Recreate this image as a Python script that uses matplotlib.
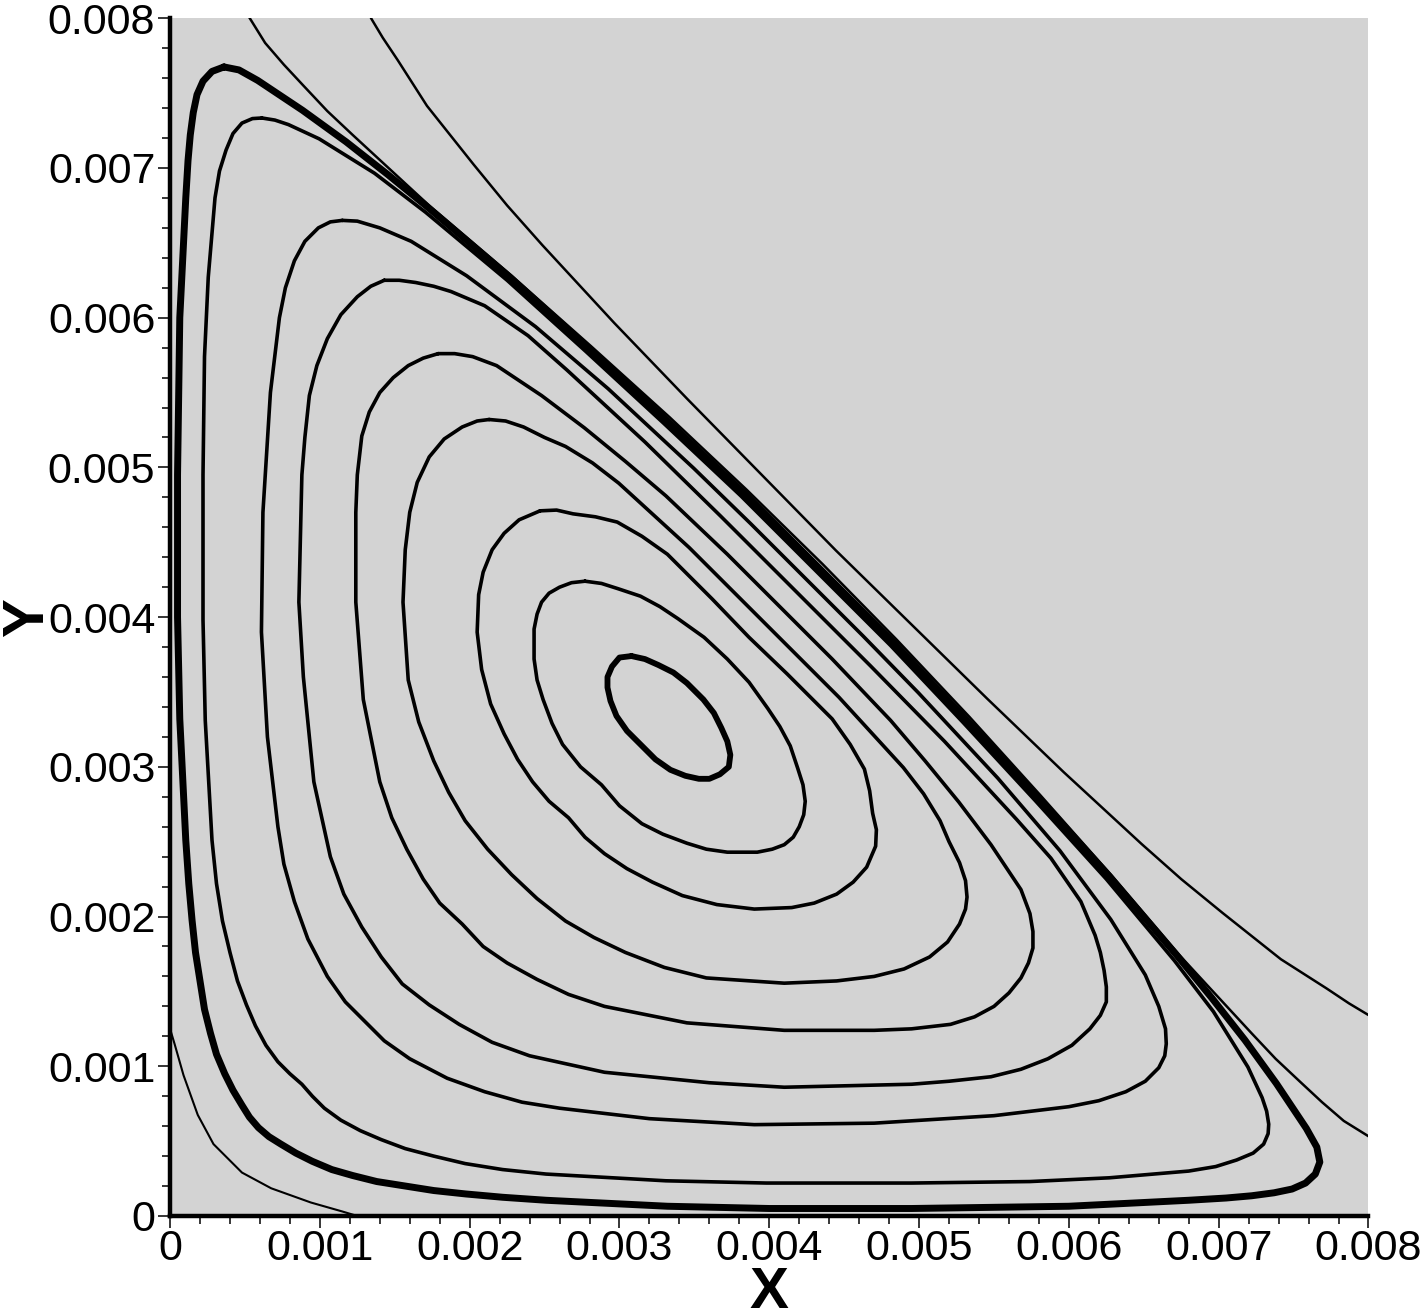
import matplotlib

matplotlib.use("Agg")
import matplotlib.pyplot as plt
from matplotlib.ticker import FixedLocator, FixedFormatter, MultipleLocator
import numpy as np

# all coordinates below are (x, y) in units of 0.001
UNIT = 1e-3

# closed streamlines, outermost (A) to innermost (I)
LOOP_A = [
    (0.36, 7.675), (0.28, 7.645), (0.22, 7.58), (0.18, 7.49), (0.155, 7.37), (0.135, 7.22),
    (0.12, 7.05), (0.105, 6.80), (0.065, 6.00), (0.05, 4.95), (0.05, 4.00), (0.065, 3.32),
    (0.105, 2.51), (0.125, 2.22), (0.147, 1.975), (0.17, 1.76), (0.20, 1.57), (0.23, 1.38),
    (0.27, 1.22), (0.31, 1.08), (0.365, 0.95), (0.42, 0.84), (0.48, 0.74), (0.53, 0.66),
    (0.59, 0.59), (0.66, 0.53), (0.74, 0.48), (0.84, 0.42), (0.95, 0.365), (1.08, 0.31),
    (1.22, 0.27), (1.38, 0.23), (1.57, 0.20), (1.76, 0.17), (1.975, 0.147), (2.22, 0.125),
    (2.51, 0.105), (3.32, 0.065), (4.00, 0.05), (4.95, 0.05), (6.00, 0.065), (6.80, 0.105),
    (7.05, 0.12), (7.22, 0.135), (7.37, 0.155), (7.49, 0.18), (7.58, 0.22), (7.645, 0.28),
    (7.675, 0.36), (7.655, 0.46), (7.585, 0.585), (7.385, 0.885), (7.175, 1.175),
    (6.955, 1.455), (6.73, 1.73), (6.27, 2.27), (5.795, 2.795), (5.315, 3.315), (4.83, 3.83),
    (4.33, 4.33), (3.83, 4.83), (3.315, 5.315), (2.795, 5.795), (2.27, 6.27), (1.73, 6.73),
    (1.455, 6.955), (1.175, 7.175), (0.885, 7.385), (0.585, 7.585), (0.46, 7.655), (0.36, 7.675),
]

LOOP_B = [
    (0.613, 7.334), (0.55, 7.33), (0.48, 7.30), (0.42, 7.23), (0.374, 7.12), (0.33, 6.98),
    (0.30, 6.80), (0.255, 6.27), (0.23, 5.74), (0.22, 4.95), (0.22, 3.98), (0.235, 3.31),
    (0.28, 2.51), (0.31, 2.22), (0.35, 1.97), (0.40, 1.76), (0.45, 1.57), (0.51, 1.41),
    (0.57, 1.27), (0.64, 1.14), (0.72, 1.03), (0.80, 0.95), (0.88, 0.88), (0.95, 0.80),
    (1.03, 0.72), (1.14, 0.64), (1.27, 0.57), (1.41, 0.51), (1.57, 0.45), (1.76, 0.40),
    (1.97, 0.35), (2.22, 0.31), (2.51, 0.28), (3.31, 0.235), (3.98, 0.22), (4.95, 0.22),
    (5.74, 0.23), (6.27, 0.255), (6.80, 0.30), (6.98, 0.33), (7.12, 0.374), (7.23, 0.42),
    (7.30, 0.48), (7.33, 0.55), (7.334, 0.613), (7.32, 0.70), (7.29, 0.79), (7.195, 0.995),
    (6.965, 1.365), (6.705, 1.705), (6.25, 2.25), (5.775, 2.775), (5.295, 3.295), (4.81, 3.81),
    (4.31, 4.31), (3.81, 4.81), (3.295, 5.295), (2.775, 5.775), (2.25, 6.25), (1.705, 6.705),
    (1.365, 6.965), (0.995, 7.195), (0.79, 7.29), (0.70, 7.32), (0.613, 7.334),
]

LOOP_C = [
    (1.15, 6.65), (1.07, 6.64), (0.99, 6.60), (0.90, 6.51), (0.83, 6.38), (0.77, 6.20),
    (0.73, 6.00), (0.70, 5.75), (0.67, 5.50), (0.62, 4.70), (0.61, 3.90), (0.65, 3.20),
    (0.72, 2.60), (0.76, 2.35), (0.83, 2.10), (0.92, 1.85), (1.05, 1.60), (1.17, 1.43),
    (1.30, 1.30), (1.43, 1.17), (1.60, 1.05), (1.85, 0.92), (2.10, 0.83), (2.35, 0.76),
    (2.60, 0.72), (3.20, 0.65), (3.90, 0.61), (4.70, 0.62), (5.50, 0.67), (5.75, 0.70),
    (6.00, 0.73), (6.20, 0.77), (6.38, 0.83), (6.51, 0.90), (6.60, 0.99), (6.64, 1.07),
    (6.65, 1.15), (6.645, 1.25), (6.60, 1.40), (6.51, 1.61), (6.28, 1.98), (5.94, 2.44),
    (5.525, 2.925), (4.995, 3.495), (4.625, 3.875), (4.25, 4.25), (3.875, 4.625),
    (3.495, 4.995), (2.925, 5.525), (2.44, 5.94), (1.98, 6.28), (1.61, 6.51), (1.40, 6.60),
    (1.25, 6.645), (1.15, 6.65),
]

LOOP_D = [
    (1.43, 6.25), (1.34, 6.21), (1.25, 6.14), (1.14, 6.02), (1.05, 5.86), (0.98, 5.68),
    (0.93, 5.48), (0.90, 5.20), (0.88, 4.95), (0.86, 4.10), (0.89, 3.60), (0.96, 2.90),
    (1.07, 2.40), (1.16, 2.15), (1.28, 1.93), (1.41, 1.73), (1.55, 1.55), (1.73, 1.41),
    (1.93, 1.28), (2.15, 1.16), (2.40, 1.07), (2.90, 0.96), (3.60, 0.89), (4.10, 0.86),
    (4.95, 0.88), (5.20, 0.90), (5.48, 0.93), (5.68, 0.98), (5.86, 1.05), (6.02, 1.14),
    (6.14, 1.25), (6.21, 1.34), (6.25, 1.43), (6.25, 1.53), (6.235, 1.64), (6.21, 1.76),
    (6.175, 1.875), (6.08, 2.10), (5.88, 2.39), (5.65, 2.65), (5.17, 3.17), (4.675, 3.675),
    (4.175, 4.175), (3.675, 4.675), (3.17, 5.17), (2.65, 5.65), (2.39, 5.88), (2.10, 6.08),
    (1.875, 6.175), (1.76, 6.21), (1.64, 6.235), (1.53, 6.25), (1.43, 6.25),
]

LOOP_E = [
    (1.79, 5.76), (1.69, 5.73), (1.59, 5.68), (1.49, 5.60), (1.40, 5.50), (1.33, 5.37),
    (1.28, 5.21), (1.25, 4.95), (1.24, 4.70), (1.24, 4.10), (1.29, 3.45), (1.40, 2.90),
    (1.48, 2.66), (1.58, 2.45), (1.69, 2.25), (1.80, 2.09), (1.95, 1.95), (2.09, 1.80),
    (2.25, 1.69), (2.45, 1.58), (2.66, 1.48), (2.90, 1.40), (3.45, 1.29), (4.10, 1.24),
    (4.70, 1.24), (4.95, 1.25), (5.21, 1.28), (5.37, 1.33), (5.50, 1.40), (5.60, 1.49),
    (5.68, 1.59), (5.73, 1.69), (5.76, 1.79), (5.76, 1.90), (5.74, 2.02), (5.68, 2.18),
    (5.48, 2.48), (5.265, 2.765), (5.04, 3.04), (4.81, 3.31), (4.42, 3.72), (4.07, 4.07),
    (3.72, 4.42), (3.31, 4.81), (3.04, 5.04), (2.765, 5.265), (2.48, 5.48), (2.18, 5.68),
    (2.02, 5.74), (1.90, 5.76), (1.79, 5.76),
]

LOOP_F = [
    (2.13, 5.32), (2.05, 5.31), (1.95, 5.27), (1.83, 5.19), (1.73, 5.07), (1.65, 4.90),
    (1.60, 4.70), (1.57, 4.45), (1.555, 4.10), (1.59, 3.58), (1.66, 3.30), (1.76, 3.04),
    (1.86, 2.83), (1.97, 2.64), (2.12, 2.45), (2.28, 2.28), (2.45, 2.12), (2.64, 1.97),
    (2.83, 1.86), (3.04, 1.76), (3.30, 1.66), (3.58, 1.59), (4.10, 1.555), (4.45, 1.57),
    (4.70, 1.60), (4.90, 1.65), (5.07, 1.73), (5.19, 1.83), (5.27, 1.95), (5.31, 2.05),
    (5.32, 2.13), (5.31, 2.24), (5.27, 2.36), (5.20, 2.50), (5.14, 2.64), (5.03, 2.82),
    (4.895, 2.995), (4.68, 3.23), (4.465, 3.465), (3.965, 3.965), (3.465, 4.465),
    (3.23, 4.68), (2.995, 4.895), (2.82, 5.03), (2.64, 5.14), (2.50, 5.20), (2.36, 5.27),
    (2.24, 5.31), (2.13, 5.32),
]

LOOP_G = [
    (2.47, 4.71), (2.33, 4.65), (2.23, 4.56), (2.15, 4.45), (2.09, 4.30), (2.06, 4.15),
    (2.05, 3.90), (2.08, 3.65), (2.14, 3.42), (2.23, 3.22), (2.32, 3.05), (2.42, 2.90),
    (2.53, 2.77), (2.66, 2.66), (2.77, 2.53), (2.90, 2.42), (3.05, 2.32), (3.22, 2.23),
    (3.42, 2.14), (3.65, 2.08), (3.90, 2.05), (4.15, 2.06), (4.30, 2.09), (4.45, 2.15),
    (4.56, 2.23), (4.65, 2.33), (4.71, 2.47), (4.715, 2.58), (4.69, 2.69), (4.67, 2.84),
    (4.635, 2.985), (4.54, 3.15), (4.42, 3.32), (4.27, 3.47), (4.12, 3.62), (3.865, 3.865),
    (3.62, 4.12), (3.47, 4.27), (3.32, 4.42), (3.15, 4.54), (2.985, 4.635), (2.84, 4.67),
    (2.69, 4.69), (2.58, 4.715), (2.47, 4.71),
]

LOOP_H = [
    (2.77, 4.24), (2.68, 4.23), (2.60, 4.20), (2.53, 4.16), (2.48, 4.10), (2.45, 4.02),
    (2.43, 3.92), (2.43, 3.72), (2.45, 3.58), (2.49, 3.45), (2.55, 3.29), (2.62, 3.15),
    (2.74, 3.00), (2.88, 2.88), (3.00, 2.74), (3.15, 2.62), (3.29, 2.55), (3.45, 2.49),
    (3.58, 2.45), (3.72, 2.43), (3.92, 2.43), (4.02, 2.45), (4.10, 2.48), (4.16, 2.53),
    (4.20, 2.60), (4.23, 2.68), (4.24, 2.77), (4.225, 2.88), (4.19, 2.99), (4.14, 3.14),
    (4.07, 3.27), (3.99, 3.39), (3.865, 3.565), (3.72, 3.72), (3.565, 3.865), (3.39, 3.99),
    (3.27, 4.07), (3.14, 4.14), (2.99, 4.19), (2.88, 4.225), (2.77, 4.24),
]

LOOP_I = [
    (3.08, 3.74), (3.17, 3.72), (3.26, 3.68), (3.36, 3.63), (3.45, 3.56), (3.56, 3.45),
    (3.63, 3.36), (3.68, 3.26), (3.72, 3.17), (3.74, 3.08), (3.73, 3.00), (3.67, 2.95),
    (3.60, 2.92), (3.53, 2.92), (3.44, 2.94), (3.34, 2.98), (3.24, 3.05), (3.145, 3.145),
    (3.05, 3.24), (2.98, 3.34), (2.94, 3.44), (2.92, 3.53), (2.92, 3.60), (2.95, 3.67),
    (3.00, 3.73), (3.08, 3.74),
]

# open streamlines outside the vortex
OPEN_1 = [
    (0.40, 8.20), (0.52, 8.02), (0.635, 7.835), (0.76, 7.69), (0.895, 7.545), (1.05, 7.38),
    (1.22, 7.22), (1.48, 6.98), (1.74, 6.74), (2.28, 6.28), (2.81, 5.81), (3.335, 5.335),
    (3.85, 4.85), (4.355, 4.355), (4.85, 3.85), (5.335, 3.335), (5.81, 2.81), (6.28, 2.28),
    (6.74, 1.74), (6.98, 1.48), (7.22, 1.22), (7.38, 1.05), (7.545, 0.895), (7.69, 0.76),
    (7.835, 0.635), (8.02, 0.52), (8.20, 0.40),
]

OPEN_2 = [
    (1.225, 8.225), (1.345, 7.995), (1.42, 7.87), (1.52, 7.72), (1.715, 7.415), (1.87, 7.22),
    (2.025, 7.025), (2.25, 6.75), (2.485, 6.485), (2.965, 5.965), (3.455, 5.455), (3.95, 4.95),
    (4.445, 4.445), (4.95, 3.95), (5.455, 3.455), (5.965, 2.965), (6.485, 2.485), (6.75, 2.25),
    (7.025, 2.025), (7.22, 1.87), (7.415, 1.715), (7.72, 1.52), (7.87, 1.42), (7.995, 1.345),
    (8.225, 1.225),
]

OPEN_3 = [
    (-0.05, 1.30), (0.0, 1.25), (0.03, 1.15), (0.09, 0.94), (0.185, 0.675), (0.29, 0.48),
    (0.385, 0.385), (0.48, 0.29), (0.675, 0.185), (0.94, 0.09), (1.15, 0.03), (1.25, 0.0),
    (1.30, -0.05),
]

TICKS = [0, 0.001, 0.002, 0.003, 0.004, 0.005, 0.006, 0.007, 0.008]
TICK_LABELS = ["0", "0.001", "0.002", "0.003", "0.004", "0.005", "0.006", "0.007", "0.008"]

# (points, line width in pt)
CURVES = [
    (OPEN_2, 1.8),
    (OPEN_1, 1.8),
    (OPEN_3, 1.5),
    (LOOP_A, 5.0),
    (LOOP_B, 2.6),
    (LOOP_C, 2.6),
    (LOOP_D, 2.6),
    (LOOP_E, 2.6),
    (LOOP_F, 2.6),
    (LOOP_G, 2.6),
    (LOOP_H, 2.6),
    (LOOP_I, 4.2),
]

plt.rcParams["font.family"] = ["Liberation Sans", "DejaVu Sans"]

fig = plt.figure(figsize=(14.23, 13.15), dpi=100)
ax = fig.add_axes([0.1195, 0.0753, 0.8422, 0.9108])
ax.set_facecolor("#d3d3d3")

for pts, lw in CURVES:
    xy = np.array(pts) * UNIT
    ax.plot(xy[:, 0], xy[:, 1], color="black", linewidth=lw,
            solid_joinstyle="round", solid_capstyle="round")

ax.set_xlim(0, 0.008)
ax.set_ylim(0, 0.008)

for side in ("top", "right"):
    ax.spines[side].set_visible(False)
for side in ("left", "bottom"):
    ax.spines[side].set_linewidth(3.2)

for axis in (ax.xaxis, ax.yaxis):
    axis.set_major_locator(FixedLocator(TICKS))
    axis.set_major_formatter(FixedFormatter(TICK_LABELS))
    axis.set_minor_locator(MultipleLocator(0.0002))

ax.tick_params(which="major", direction="out", length=8.6, width=1.1, labelsize=31)
ax.tick_params(which="minor", direction="out", length=5.8, width=1.1)
ax.tick_params(axis="x", which="major", pad=1)
ax.tick_params(axis="y", which="major", pad=2)

ax.set_xlabel("X", fontsize=42, fontweight="bold")
ax.set_ylabel("Y", fontsize=42, fontweight="bold")
ax.xaxis.set_label_coords(0.5, -0.042)
ax.yaxis.set_label_coords(-0.096, 0.5)

fig.savefig("out.png", dpi=100)
